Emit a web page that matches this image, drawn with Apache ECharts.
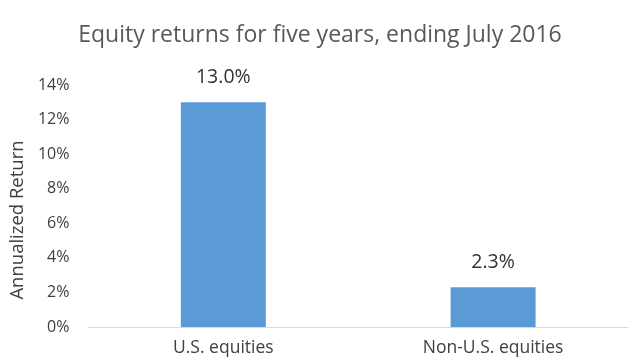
<!DOCTYPE html>
<html><head><meta charset="utf-8">
<script src="https://cdn.jsdelivr.net/npm/echarts@6/dist/echarts.min.js"></script>
<style>html,body{margin:0;padding:0;background:#fff}#c{width:640px;height:364px}</style>
</head><body><div id="c"></div>
<script>
const categories = ["U.S. equities", "Non-U.S. equities"];
const returns = [13.0, 2.3];
const chartTitle = "Equity returns for five years, ending July 2016";
const yAxisName = "Annualized Return";

const chart = echarts.init(document.getElementById('c'), null, {renderer: 'canvas'});
const font = "'Open Sans', 'Noto Sans', sans-serif";
chart.setOption({
  animation: false,
  backgroundColor: '#ffffff',
  title: {
    text: chartTitle, left: 'center', top: 19,
    textStyle: {fontFamily: font, fontSize: 23, fontWeight: 'normal', color: '#595959'}
  },
  grid: {left: 88, right: 12, top: 85, bottom: 37},
  xAxis: {
    type: 'category', data: categories,
    axisLine: {lineStyle: {color: '#d9d9d9', width: 1}},
    axisTick: {show: false},
    axisLabel: {fontFamily: font, fontSize: 17.5, color: '#404040', margin: 12}
  },
  yAxis: {
    type: 'value', min: 0, max: 14, interval: 2,
    name: yAxisName, nameLocation: 'middle', nameGap: 52,
    nameTextStyle: {fontFamily: font, fontSize: 18.5, color: '#404040', padding: [0, 28, 0, 0]},
    splitLine: {show: false},
    axisLine: {show: false}, axisTick: {show: false},
    axisLabel: {fontFamily: font, fontSize: 16, color: '#404040', margin: 19,
      formatter: v => v + '%'}
  },
  series: [{
    type: 'bar', data: returns, barWidth: '31.5%',
    itemStyle: {color: '#5b9bd5'},
    label: {show: true, position: 'top', distance: 15, fontFamily: font, fontSize: 19.5,
      color: '#333333', formatter: p => p.value.toFixed(1) + '%'}
  }]
});
</script></body></html>
